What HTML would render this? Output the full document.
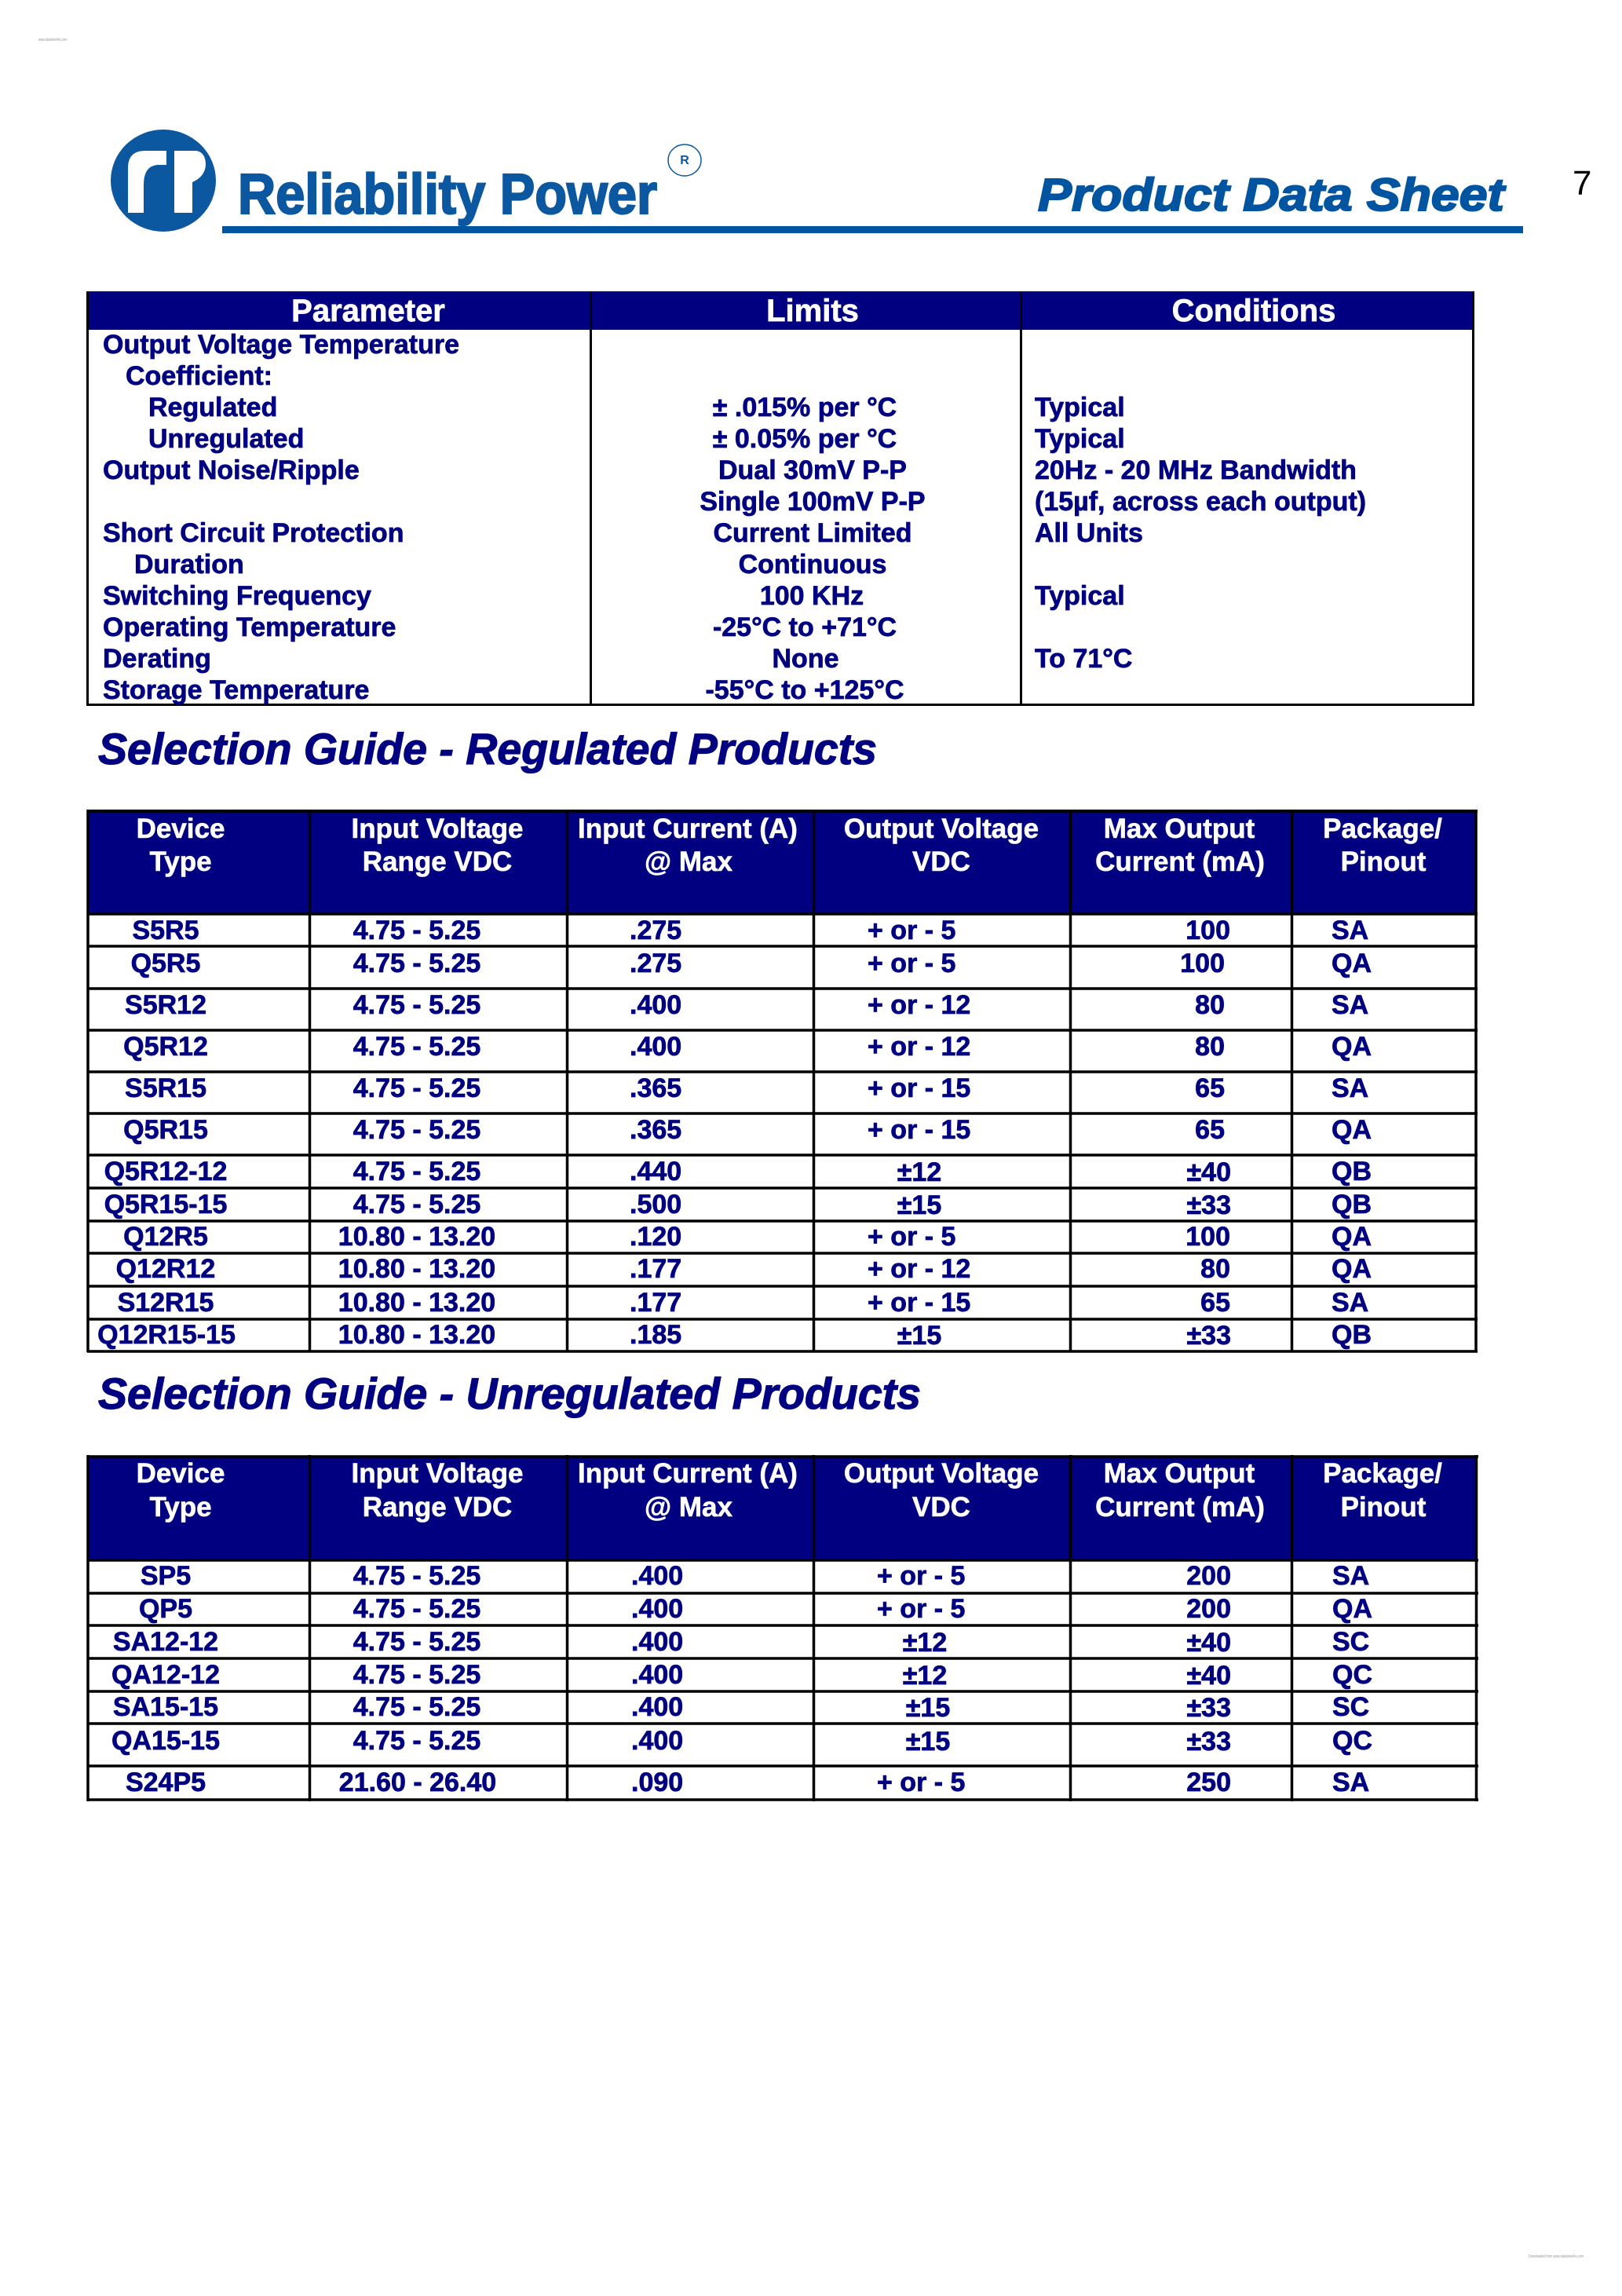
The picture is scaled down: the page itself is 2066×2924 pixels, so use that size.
<!DOCTYPE html>
<html>
<head>
<meta charset="utf-8">
<style>
html,body{margin:0;padding:0;background:#fff;}
svg{display:block;}
text{font-family:"Liberation Sans",Arial,sans-serif;}
.b{font-weight:bold;fill:#000080;font-size:34px;stroke:#000080;stroke-width:0.7px;}
.h{font-weight:bold;fill:#ffffff;font-size:35px;stroke:#ffffff;stroke-width:0.6px;}
.t{font-weight:bold;font-style:italic;fill:#000080;font-size:56px;stroke:#000080;stroke-width:1.2px;}
</style>
</head>
<body>
<svg width="2066" height="2924" viewBox="0 0 2066 2924" xmlns="http://www.w3.org/2000/svg">
<rect x="0" y="0" width="2066" height="2924" fill="#fff"/>

<!-- tiny watermark texts -->
<text x="49" y="52" font-size="5" fill="#999" textLength="36" lengthAdjust="spacingAndGlyphs">www.datasheet4u.com</text>
<text x="1947" y="2875" font-size="5" fill="#999" textLength="70" lengthAdjust="spacingAndGlyphs">Downloaded from www.datasheet4u.com</text>

<!-- Logo -->
<ellipse cx="208" cy="230" rx="67" ry="65" fill="#0b57a0"/>
<path d="M163,271 L163,214 Q163,192 185,192 L212,192 L212,210 L200,210 Q183,212 183,235 L183,271 Z" fill="#fff"/>
<path d="M222,192 L250,192 Q262,194 262,210 Q261,225 245,232 L245,271 L222,271 Z" fill="#fff"/>
<text x="303" y="272" font-size="72" font-weight="bold" fill="#0b57a0" stroke="#0b57a0" stroke-width="2.2" textLength="534" lengthAdjust="spacingAndGlyphs">Reliability Power</text>
<ellipse cx="872" cy="204" rx="21" ry="20" fill="none" stroke="#0b57a0" stroke-width="1.5"/>
<text x="872" y="209" font-size="16" font-weight="bold" fill="#0b57a0" text-anchor="middle">R</text>
<rect x="283" y="288" width="1657" height="9" fill="#0054a0"/>
<text x="1322" y="268" font-size="58" font-weight="bold" font-style="italic" fill="#0054a0" stroke="#0054a0" stroke-width="2" textLength="594" lengthAdjust="spacingAndGlyphs">Product Data Sheet</text>
<text x="2003" y="248" font-size="44" fill="#000">7</text>

<!-- Table 1 -->
<rect x="110" y="371" width="1768" height="49" fill="#000080"/>
<g stroke="#000" stroke-width="3" fill="none">
<line x1="111.5" y1="371" x2="111.5" y2="899"/>
<line x1="1876.5" y1="371" x2="1876.5" y2="899"/>
<line x1="110" y1="897.5" x2="1878" y2="897.5"/>
<line x1="752.5" y1="371" x2="752.5" y2="899"/>
<line x1="1300.5" y1="371" x2="1300.5" y2="899"/>
</g>
<g font-size="40" font-weight="bold" fill="#fff" stroke="#fff" stroke-width="0.7" text-anchor="middle">
<text x="469" y="409">Parameter</text>
<text x="1035" y="409">Limits</text>
<text x="1597" y="409">Conditions</text>
</g>
<g>
<text class="b" x="131" y="450">Output Voltage Temperature</text>
<text class="b" x="160" y="490">Coefficient:</text>
<text class="b" x="189" y="530">Regulated</text>
<text class="b" x="189" y="570">Unregulated</text>
<text class="b" x="131" y="610">Output Noise/Ripple</text>
<text class="b" x="131" y="690">Short Circuit Protection</text>
<text class="b" x="171" y="730">Duration</text>
<text class="b" x="131" y="770">Switching Frequency</text>
<text class="b" x="131" y="810">Operating Temperature</text>
<text class="b" x="131" y="850">Derating</text>
<text class="b" x="131" y="890">Storage Temperature</text>
</g>
<g text-anchor="middle">
<text class="b" x="1025" y="530">± .015% per °C</text>
<text class="b" x="1025" y="570">± 0.05% per °C</text>
<text class="b" x="1035" y="610">Dual 30mV P-P</text>
<text class="b" x="1035" y="650">Single 100mV P-P</text>
<text class="b" x="1035" y="690">Current Limited</text>
<text class="b" x="1035" y="730">Continuous</text>
<text class="b" x="1034" y="770">100 KHz</text>
<text class="b" x="1025" y="810">-25°C to +71°C</text>
<text class="b" x="1026" y="850">None</text>
<text class="b" x="1025" y="890">-55°C to +125°C</text>
</g>
<g>
<text class="b" x="1318" y="530">Typical</text>
<text class="b" x="1318" y="570">Typical</text>
<text class="b" x="1318" y="610">20Hz - 20 MHz Bandwidth</text>
<text class="b" x="1318" y="650">(15µf, across each output)</text>
<text class="b" x="1318" y="690">All Units</text>
<text class="b" x="1318" y="770">Typical</text>
<text class="b" x="1318" y="850">To 71°C</text>
</g>

<!-- Regulated title -->
<text class="t" x="125" y="973" textLength="992" lengthAdjust="spacingAndGlyphs">Selection Guide - Regulated Products</text>

<!-- Regulated table -->
<rect x="111" y="1031" width="1769" height="133" fill="#000080"/>
<g stroke="#000" stroke-width="3.5" fill="none">
<line x1="112" y1="1031" x2="112" y2="1722"/>
<line x1="394.5" y1="1031" x2="394.5" y2="1722"/>
<line x1="722.5" y1="1031" x2="722.5" y2="1722"/>
<line x1="1036.5" y1="1031" x2="1036.5" y2="1722"/>
<line x1="1363.5" y1="1031" x2="1363.5" y2="1722"/>
<line x1="1645.5" y1="1031" x2="1645.5" y2="1722"/>
<line x1="1880" y1="1031" x2="1880" y2="1722"/>
<line x1="111" y1="1033" x2="1882" y2="1033"/>
<line x1="111" y1="1164" x2="1882" y2="1164"/>
<line x1="111" y1="1205" x2="1882" y2="1205"/>
<line x1="111" y1="1259" x2="1882" y2="1259"/>
<line x1="111" y1="1312" x2="1882" y2="1312"/>
<line x1="111" y1="1365" x2="1882" y2="1365"/>
<line x1="111" y1="1418" x2="1882" y2="1418"/>
<line x1="111" y1="1471" x2="1882" y2="1471"/>
<line x1="111" y1="1513" x2="1882" y2="1513"/>
<line x1="111" y1="1555" x2="1882" y2="1555"/>
<line x1="111" y1="1596" x2="1882" y2="1596"/>
<line x1="111" y1="1638" x2="1882" y2="1638"/>
<line x1="111" y1="1680" x2="1882" y2="1680"/>
<line x1="111" y1="1721" x2="1882" y2="1721"/>
</g>
<g text-anchor="middle">
<text class="h" x="230" y="1067">Device</text><text class="h" x="230" y="1109">Type</text>
<text class="h" x="557" y="1067">Input Voltage</text><text class="h" x="557" y="1109">Range VDC</text>
<text class="h" x="876" y="1067">Input Current (A)</text><text class="h" x="877" y="1109">@ Max</text>
<text class="h" x="1199" y="1067">Output Voltage</text><text class="h" x="1199" y="1109">VDC</text>
<text class="h" x="1502" y="1067">Max Output</text><text class="h" x="1503" y="1109">Current (mA)</text>
<text class="h" x="1761" y="1067">Package/</text><text class="h" x="1762" y="1109">Pinout</text>
</g>
<!-- device col -->
<g text-anchor="middle">
<text class="b" x="211" y="1196">S5R5</text>
<text class="b" x="211" y="1238">Q5R5</text>
<text class="b" x="211" y="1291">S5R12</text>
<text class="b" x="211" y="1344">Q5R12</text>
<text class="b" x="211" y="1397">S5R15</text>
<text class="b" x="211" y="1450">Q5R15</text>
<text class="b" x="211" y="1503">Q5R12-12</text>
<text class="b" x="211" y="1545">Q5R15-15</text>
<text class="b" x="211" y="1586">Q12R5</text>
<text class="b" x="211" y="1627">Q12R12</text>
<text class="b" x="211" y="1670">S12R15</text>
<text class="b" x="212" y="1711">Q12R15-15</text>
</g>
<g text-anchor="middle">
<text class="b" x="531" y="1196">4.75 - 5.25</text>
<text class="b" x="531" y="1238">4.75 - 5.25</text>
<text class="b" x="531" y="1291">4.75 - 5.25</text>
<text class="b" x="531" y="1344">4.75 - 5.25</text>
<text class="b" x="531" y="1397">4.75 - 5.25</text>
<text class="b" x="531" y="1450">4.75 - 5.25</text>
<text class="b" x="531" y="1503">4.75 - 5.25</text>
<text class="b" x="531" y="1545">4.75 - 5.25</text>
<text class="b" x="531" y="1586">10.80 - 13.20</text>
<text class="b" x="531" y="1627">10.80 - 13.20</text>
<text class="b" x="531" y="1670">10.80 - 13.20</text>
<text class="b" x="531" y="1711">10.80 - 13.20</text>
</g>
<g>
<text class="b" x="802" y="1196">.275</text>
<text class="b" x="802" y="1238">.275</text>
<text class="b" x="802" y="1291">.400</text>
<text class="b" x="802" y="1344">.400</text>
<text class="b" x="802" y="1397">.365</text>
<text class="b" x="802" y="1450">.365</text>
<text class="b" x="802" y="1503">.440</text>
<text class="b" x="802" y="1545">.500</text>
<text class="b" x="802" y="1586">.120</text>
<text class="b" x="802" y="1627">.177</text>
<text class="b" x="802" y="1670">.177</text>
<text class="b" x="802" y="1711">.185</text>
</g>
<g>
<text class="b" x="1105" y="1196">+ or - 5</text>
<text class="b" x="1105" y="1238">+ or - 5</text>
<text class="b" x="1105" y="1291">+ or - 12</text>
<text class="b" x="1105" y="1344">+ or - 12</text>
<text class="b" x="1105" y="1397">+ or - 15</text>
<text class="b" x="1105" y="1450">+ or - 15</text>
<text class="b" x="1171" y="1504" text-anchor="middle">±12</text>
<text class="b" x="1171" y="1546" text-anchor="middle">±15</text>
<text class="b" x="1105" y="1586">+ or - 5</text>
<text class="b" x="1105" y="1627">+ or - 12</text>
<text class="b" x="1105" y="1670">+ or - 15</text>
<text class="b" x="1171" y="1712" text-anchor="middle">±15</text>
</g>
<g text-anchor="end">
<text class="b" x="1567" y="1196">100</text>
<text class="b" x="1560" y="1238">100</text>
<text class="b" x="1560" y="1291">80</text>
<text class="b" x="1560" y="1344">80</text>
<text class="b" x="1560" y="1397">65</text>
<text class="b" x="1560" y="1450">65</text>
<text class="b" x="1568" y="1504">±40</text>
<text class="b" x="1568" y="1546">±33</text>
<text class="b" x="1567" y="1586">100</text>
<text class="b" x="1567" y="1627">80</text>
<text class="b" x="1567" y="1670">65</text>
<text class="b" x="1568" y="1712">±33</text>
</g>
<g>
<text class="b" x="1696" y="1196">SA</text>
<text class="b" x="1696" y="1238">QA</text>
<text class="b" x="1696" y="1291">SA</text>
<text class="b" x="1696" y="1344">QA</text>
<text class="b" x="1696" y="1397">SA</text>
<text class="b" x="1696" y="1450">QA</text>
<text class="b" x="1696" y="1503">QB</text>
<text class="b" x="1696" y="1545">QB</text>
<text class="b" x="1696" y="1586">QA</text>
<text class="b" x="1696" y="1627">QA</text>
<text class="b" x="1696" y="1670">SA</text>
<text class="b" x="1696" y="1711">QB</text>
</g>

<!-- Unregulated title -->
<text class="t" x="125" y="1794" textLength="1048" lengthAdjust="spacingAndGlyphs">Selection Guide - Unregulated Products</text>

<!-- Unregulated table -->
<rect x="111" y="1854" width="1770" height="133" fill="#000080"/>
<g stroke="#000" stroke-width="3.5" fill="none">
<line x1="112" y1="1853" x2="112" y2="2294"/>
<line x1="394.5" y1="1853" x2="394.5" y2="2294"/>
<line x1="722.5" y1="1853" x2="722.5" y2="2294"/>
<line x1="1036.5" y1="1853" x2="1036.5" y2="2294"/>
<line x1="1363.5" y1="1853" x2="1363.5" y2="2294"/>
<line x1="1645.5" y1="1853" x2="1645.5" y2="2294"/>
<line x1="1880.5" y1="1853" x2="1880.5" y2="2294"/>
<line x1="111" y1="1855" x2="1883" y2="1855"/>
<line x1="111" y1="1987" x2="1883" y2="1987"/>
<line x1="111" y1="2029" x2="1883" y2="2029"/>
<line x1="111" y1="2070" x2="1883" y2="2070"/>
<line x1="111" y1="2112" x2="1883" y2="2112"/>
<line x1="111" y1="2154" x2="1883" y2="2154"/>
<line x1="111" y1="2195" x2="1883" y2="2195"/>
<line x1="111" y1="2249" x2="1883" y2="2249"/>
<line x1="111" y1="2292" x2="1883" y2="2292"/>
</g>
<g text-anchor="middle">
<text class="h" x="230" y="1888">Device</text><text class="h" x="230" y="1931">Type</text>
<text class="h" x="557" y="1888">Input Voltage</text><text class="h" x="557" y="1931">Range VDC</text>
<text class="h" x="876" y="1888">Input Current (A)</text><text class="h" x="877" y="1931">@ Max</text>
<text class="h" x="1199" y="1888">Output Voltage</text><text class="h" x="1199" y="1931">VDC</text>
<text class="h" x="1502" y="1888">Max Output</text><text class="h" x="1503" y="1931">Current (mA)</text>
<text class="h" x="1761" y="1888">Package/</text><text class="h" x="1762" y="1931">Pinout</text>
</g>
<g text-anchor="middle">
<text class="b" x="211" y="2018">SP5</text>
<text class="b" x="211" y="2060">QP5</text>
<text class="b" x="211" y="2102">SA12-12</text>
<text class="b" x="211" y="2144">QA12-12</text>
<text class="b" x="211" y="2185">SA15-15</text>
<text class="b" x="211" y="2228">QA15-15</text>
<text class="b" x="211" y="2281">S24P5</text>
</g>
<g text-anchor="middle">
<text class="b" x="531" y="2018">4.75 - 5.25</text>
<text class="b" x="531" y="2060">4.75 - 5.25</text>
<text class="b" x="531" y="2102">4.75 - 5.25</text>
<text class="b" x="531" y="2144">4.75 - 5.25</text>
<text class="b" x="531" y="2185">4.75 - 5.25</text>
<text class="b" x="531" y="2228">4.75 - 5.25</text>
<text class="b" x="532" y="2281">21.60 - 26.40</text>
</g>
<g>
<text class="b" x="804" y="2018">.400</text>
<text class="b" x="804" y="2060">.400</text>
<text class="b" x="804" y="2102">.400</text>
<text class="b" x="804" y="2144">.400</text>
<text class="b" x="804" y="2185">.400</text>
<text class="b" x="804" y="2228">.400</text>
<text class="b" x="804" y="2281">.090</text>
</g>
<g>
<text class="b" x="1117" y="2018">+ or - 5</text>
<text class="b" x="1117" y="2060">+ or - 5</text>
<text class="b" x="1178" y="2103" text-anchor="middle">±12</text>
<text class="b" x="1178" y="2145" text-anchor="middle">±12</text>
<text class="b" x="1182" y="2186" text-anchor="middle">±15</text>
<text class="b" x="1182" y="2229" text-anchor="middle">±15</text>
<text class="b" x="1117" y="2281">+ or - 5</text>
</g>
<g text-anchor="end">
<text class="b" x="1568" y="2018">200</text>
<text class="b" x="1568" y="2060">200</text>
<text class="b" x="1568" y="2103">±40</text>
<text class="b" x="1568" y="2145">±40</text>
<text class="b" x="1568" y="2186">±33</text>
<text class="b" x="1568" y="2229">±33</text>
<text class="b" x="1568" y="2281">250</text>
</g>
<g>
<text class="b" x="1697" y="2018">SA</text>
<text class="b" x="1697" y="2060">QA</text>
<text class="b" x="1697" y="2102">SC</text>
<text class="b" x="1697" y="2144">QC</text>
<text class="b" x="1697" y="2185">SC</text>
<text class="b" x="1697" y="2228">QC</text>
<text class="b" x="1697" y="2281">SA</text>
</g>
</svg>
</body>
</html>
